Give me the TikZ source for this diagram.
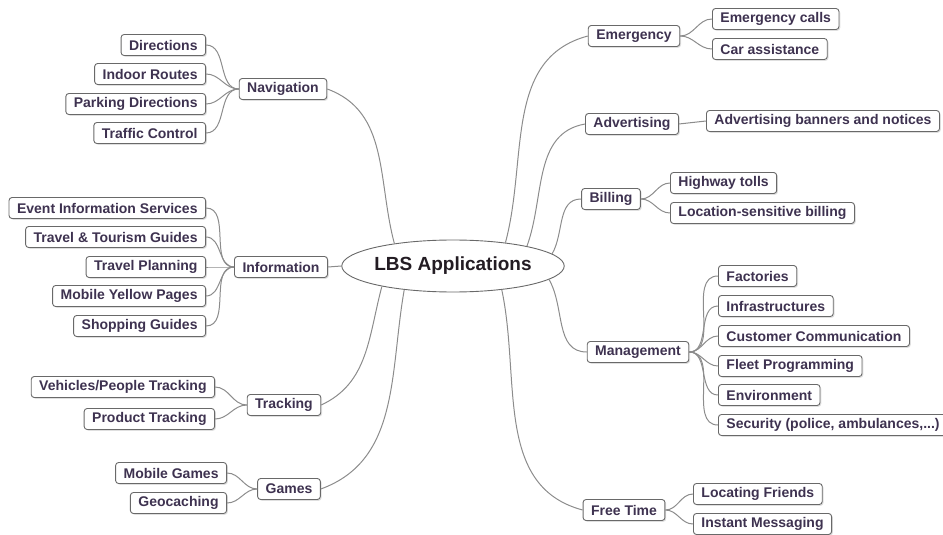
\documentclass[tikz,border=0pt]{standalone}
\usepackage{fontspec}
\setmainfont{Liberation Sans}
\usetikzlibrary{shapes.geometric,shadows}
\definecolor{ink}{RGB}{62,50,80}
\definecolor{rim}{RGB}{105,105,105}
\definecolor{wire}{RGB}{140,140,140}
\tikzset{root/.style = {ellipse, draw=rim, line width=0.9pt, fill=white, minimum width=197pt, minimum height=52pt, inner sep=0pt,
                         text={rgb,255:red,35;green,28;blue,35}, font=\fontsize{19}{22}\selectfont\bfseries},
           box/.style = {rectangle, rounded corners=3pt, draw=rim, line width=0.9pt, fill=white,
                         drop shadow={opacity=0.25, shadow xshift=1.3pt, shadow yshift=-1.3pt},
                         inner xsep=8pt, inner ysep=2pt, minimum height=21pt, text=ink,
                         font=\fontsize{14}{16}\selectfont\bfseries},
           lf/.style = {box, anchor=east},
           rf/.style = {box, anchor=west},
           br/.style = {draw=wire, line width=1pt}}

\begin{document}
\begin{tikzpicture}[x=1pt, y=1pt]
    \useasboundingbox (0,0) rectangle (943,-535);
    \node[root] (r) at (453,-266) {LBS Applications};
    % left side
    \node[box] (nav) at (283,-89) {Navigation};
    \node[lf] (n1) at (206,-45) {Directions};
    \node[lf] (n2) at (206,-74) {Indoor Routes};
    \node[lf] (n3) at (206,-104) {Parking Directions};
    \node[lf] (n4) at (206,-133) {Traffic Control};
    \node[box] (inf) at (281,-267) {Information};
    \node[lf] (i1) at (206,-208) {Event Information Services};
    \node[lf] (i2) at (206,-237) {Travel \& Tourism Guides};
    \node[lf] (i3) at (206,-267) {Travel Planning};
    \node[lf] (i4) at (206,-296) {Mobile Yellow Pages};
    \node[lf] (i5) at (206,-326) {Shopping Guides};
    \node[box] (trk) at (284,-405) {Tracking};
    \node[lf] (t1) at (215,-387) {Vehicles/People Tracking};
    \node[lf] (t2) at (215,-419) {Product Tracking};
    \node[box] (gam) at (289,-489) {Games};
    \node[lf] (g1) at (227,-473) {Mobile Games};
    \node[lf] (g2) at (227,-503) {Geocaching};
    % right side
    \node[box] (emg) at (634,-36) {Emergency};
    \node[rf] (e1) at (712,-19) {Emergency calls};
    \node[rf] (e2) at (712,-49) {Car assistance};
    \node[box] (adv) at (632,-124) {Advertising};
    \node[rf] (a1) at (706,-121) {Advertising banners and notices};
    \node[box] (bil) at (611,-199) {Billing};
    \node[rf] (b1) at (670,-183) {Highway tolls};
    \node[rf] (b2) at (670,-213) {Location-sensitive billing};
    \node[box] (mgm) at (638,-352) {Management};
    \node[rf] (m1) at (718,-276) {Factories};
    \node[rf] (m2) at (718,-306) {Infrastructures};
    \node[rf] (m3) at (718,-336) {Customer Communication};
    \node[rf] (m4) at (718,-366) {Fleet Programming};
    \node[rf] (m5) at (718,-395) {Environment};
    \node[rf] (m6) at (718,-425) {Security (police, ambulances,...)};
    \node[box] (fre) at (624,-510) {Free Time};
    \node[rf] (f1) at (693,-494) {Locating Friends};
    \node[rf] (f2) at (693,-524) {Instant Messaging};

    \draw[br] (r.159) to[out=105, in=-20] (nav.east);
    \draw[br] (r.west) -- (inf.east);
    \draw[br] (r.196) to[out=-105, in=25] (trk.east);
    \draw[br] (r.206) to[out=-100, in=20] (gam.east);
    \draw[br] (r.24) to[out=75, in=195] (emg.west);
    \draw[br] (r.15) to[out=70, in=190] (adv.west);
    \draw[br] (r.7) to[out=60, in=180] (bil.west);
    \draw[br] (r.-8) to[out=-60, in=180] (mgm.west);
    \draw[br] (r.-26) to[out=-78, in=165] (fre.west);
    \foreach \k in {n1,n2,n3,n4} \draw[br] (nav.west) to[out=180, in=0] (\k.east);
    \foreach \k in {i1,i2,i3,i4,i5} \draw[br] (inf.west) to[out=180, in=0] (\k.east);
    \foreach \k in {t1,t2} \draw[br] (trk.west) to[out=180, in=0] (\k.east);
    \foreach \k in {g1,g2} \draw[br] (gam.west) to[out=180, in=0] (\k.east);
    \foreach \k in {e1,e2} \draw[br] (emg.east) to[out=0, in=180] (\k.west);
    \draw[br] (adv.east) -- (a1.west);
    \foreach \k in {b1,b2} \draw[br] (bil.east) to[out=0, in=180] (\k.west);
    \foreach \k in {m1,m2,m3,m4,m5,m6} \draw[br] (mgm.east) to[out=0, in=180] (\k.west);
    \foreach \k in {f1,f2} \draw[br] (fre.east) to[out=0, in=180] (\k.west);
\end{tikzpicture}
\end{document}
